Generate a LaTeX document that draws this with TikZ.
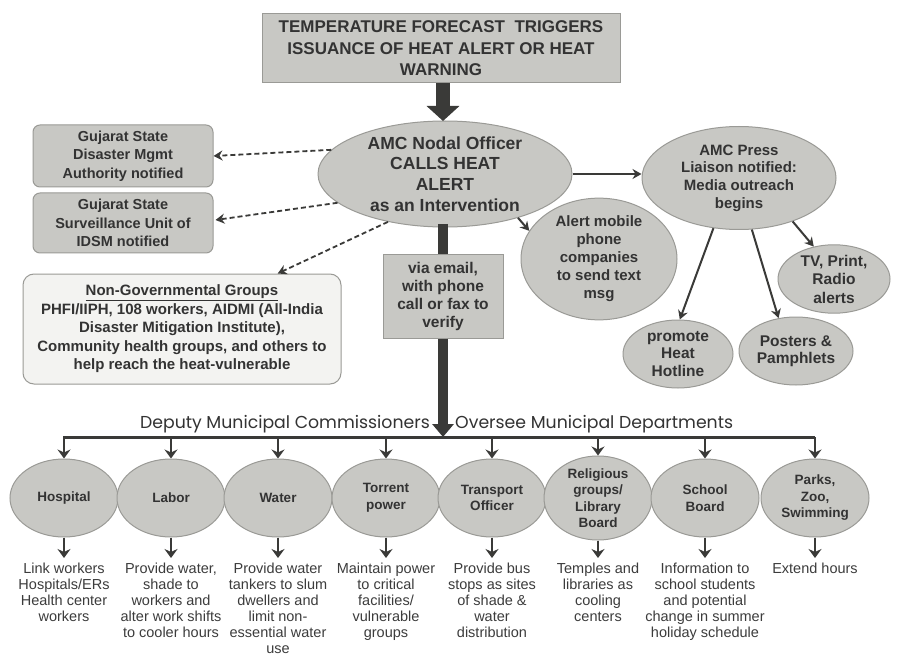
\documentclass[tikz,border=0pt]{standalone}
\usepackage{fontspec}
\setmainfont{Liberation Sans}
\newfontfamily\geo{Poppins}
\usetikzlibrary{shapes.geometric,arrows.meta,calc}
\definecolor{boxfill}{HTML}{C8C8C4}
\definecolor{boxdraw}{HTML}{9A9A96}
\definecolor{ink}{HTML}{333333}
\definecolor{arr}{HTML}{3A3A38}
\definecolor{ngofill}{HTML}{F3F3F1}
\definecolor{notecol}{HTML}{3C3C3C}
\begin{document}
\begin{tikzpicture}[x=1pt,y=-1pt,
  gbox/.style={draw=boxdraw, fill=boxfill, line width=1pt, text=ink, align=center, inner sep=0pt,
    font=\bfseries\fontsize{14.5}{18.5}\selectfont},
  gell/.style={ellipse, draw=boxdraw, fill=boxfill, line width=1pt, text=ink, align=center, inner sep=0pt,
    font=\bfseries\fontsize{15}{18}\selectfont},
  dept/.style={gell, minimum width=108pt, minimum height=78pt, font=\bfseries\fontsize{13.5}{16.5}\selectfont},
  note/.style={text=notecol, align=center, anchor=north, inner sep=0pt, font=\fontsize{14.5}{16}\selectfont},
  dasharr/.style={draw=arr, line width=1.8pt, dash pattern=on 5pt off 3pt, -{Stealth[length=9pt,width=10pt,inset=3pt]}},
  solarr/.style={draw=arr, line width=2pt, -{Stealth[length=9pt,width=10pt,inset=3pt]}},
  deparr/.style={draw=arr, line width=2.6pt, -{Stealth[length=9pt,width=13pt,inset=3pt]}},
  hdr/.style={text=ink, inner sep=0pt, font=\geo\fontsize{17.3}{20}\selectfont}
]
\useasboundingbox (0,0) rectangle (897,655);
\fill[white] (0,0) rectangle (897,655);

% top box
\node[gbox, minimum width=358pt, minimum height=69pt, font=\bfseries\fontsize{17}{21.5}\selectfont] (top) at (441,48.5)
  {TEMPERATURE FORECAST\ \ TRIGGERS\\ISSUANCE OF HEAT ALERT OR HEAT\\WARNING};

% central ellipse
\node[gell, minimum width=254pt, minimum height=102pt, font=\bfseries\fontsize{17.5}{20.7}\selectfont] (nodal) at (445,174)
  {AMC Nodal Officer\\CALLS HEAT\\ALERT\\as an Intervention};

\draw[arr, line width=14pt, -{Triangle[length=15pt,width=32pt]}] (443,83) -- (443,121);

% via email
\node[gbox, minimum width=120pt, minimum height=83pt, font=\bfseries\fontsize{15.5}{17.7}\selectfont] (via) at (443,296.5)
  {via email,\\with phone\\call or fax to\\verify};
\draw[arr, line width=10pt] (443,224) -- (via.north);
\draw[arr, line width=10pt, -{Triangle[length=13pt,width=21pt]}] (via.south) -- (443,437);

% left boxes
\node[gbox, rounded corners=7pt, minimum width=180pt, minimum height=62pt] (gsdma) at (123,156)
  {Gujarat State\\Disaster Mgmt\\Authority notified};
\node[gbox, rounded corners=7pt, minimum width=180pt, minimum height=60pt] (gsu) at (123,223)
  {Gujarat State\\Surveillance Unit of\\IDSM notified};
\node[gbox, fill=ngofill, rounded corners=11pt, minimum width=318pt, minimum height=110pt,
  font=\bfseries\fontsize{15}{18.5}\selectfont] (ngo) at (182,329)
  {\underline{Non-Governmental Groups}\\PHFI/IIPH, 108 workers, AIDMI (All-India\\Disaster Mitigation Institute),\\Community health groups, and others to\\help reach the heat-vulnerable};

\draw[dasharr] (nodal.168) -- (gsdma.east);
\draw[dasharr] (nodal.195) -- ($(gsu.east)+(2,-3)$);
\draw[dasharr] (nodal.220) -- ($(ngo.north west)!0.8!(ngo.north east)$);

% right side
\node[gell, minimum width=194pt, minimum height=103pt, font=\bfseries\fontsize{15}{17.7}\selectfont] (press) at (739,178)
  {AMC Press\\Liaison notified:\\Media outreach\\begins};
\node[gell, minimum width=156pt, minimum height=102pt] (mobile) at (599,259)
  {Alert mobile\\phone\\companies\\to send text\\msg};
\node[gell, minimum width=112pt, minimum height=64pt, font=\bfseries\fontsize{15.5}{18.5}\selectfont] (tv) at (834,279)
  {TV, Print,\\Radio\\alerts};
\node[gell, minimum width=110pt, minimum height=68pt, font=\bfseries\fontsize{15.5}{17.5}\selectfont] (promote) at (678,354)
  {promote\\Heat\\Hotline};
\node[gell, minimum width=114pt, minimum height=68pt, font=\bfseries\fontsize{15.5}{17.5}\selectfont] (posters) at (796,351)
  {Posters \&\\Pamphlets};

\draw[solarr] (nodal.east) -- (nodal.east -| press.west);
\draw[solarr] (nodal.-31) -- (mobile.158);
\draw[solarr] (press.243) -- (promote.87);
\draw[solarr] (press.-76) -- (posters.118);
\draw[solarr] (press.-39) -- (tv.122);

% bottom header
\node[hdr, anchor=base east] (dmc) at (430,428) {Deputy Municipal Commissioners};
\node[hdr, anchor=base west] (omd) at (455,428) {Oversee Municipal Departments};
\coordinate (hl) at (63,437);
\coordinate (hr) at (815,437);
\draw[arr, line width=3pt] (hl) -- (hr);

% departments
\foreach \x/\nm/\lab/\txt in {
  64/hosp/{Hospital}/{Link workers\\Hospitals/ERs\\Health center\\workers},
  171/labor/{Labor}/{Provide water,\\shade to\\workers and\\alter work shifts\\to cooler hours},
  278/water/{Water}/{Provide water\\tankers to slum\\dwellers and\\limit non-\\essential water\\use},
  386/torrent/{Torrent\\power}/{Maintain power\\to critical\\facilities/\\vulnerable\\groups},
  492/transport/{Transport\\Officer}/{Provide bus\\stops as sites\\of shade \&\\water\\distribution},
  598/relig/{Religious\\groups/\\Library\\Board}/{Temples and\\libraries as\\cooling\\centers},
  705/school/{School\\Board}/{Information to\\school students\\and potential\\change in summer\\holiday schedule},
  815/parks/{Parks,\\Zoo,\\Swimming}/{Extend hours}}
{
  \node[dept] (\nm) at (\x,498) {\lab};
  \coordinate (\nm top) at (\x,437);
  \draw[deparr] (\nm top) -- (\nm.north);
  \node[note] (\nm note) at (\x,563) {\txt};
  \draw[deparr] (\nm.south) -- (\x,558);
}
\end{tikzpicture}
\end{document}
